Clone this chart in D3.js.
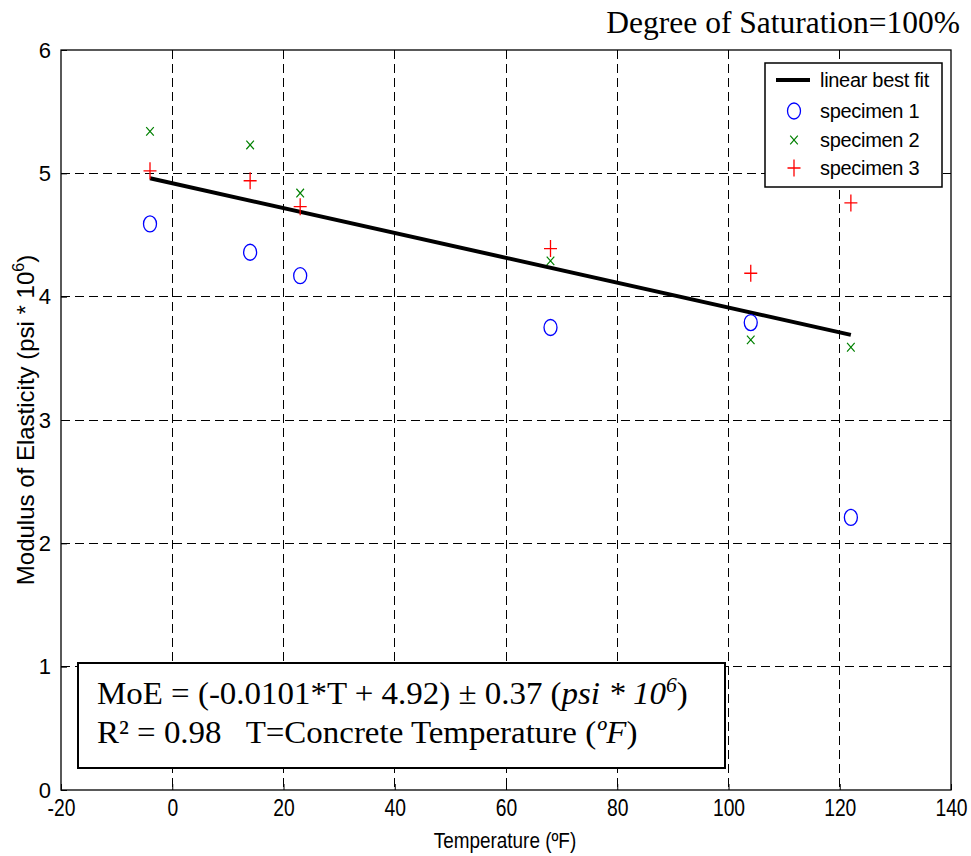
<!DOCTYPE html>
<html>
<head>
<meta charset="utf-8">
<script src="https://cdn.jsdelivr.net/npm/d3@7"></script>
<style>
  html, body { margin: 0; padding: 0; background: #fff; }
  svg { display: block; }
</style>
</head>
<body>
<svg id="chart" width="971" height="856"></svg>
<script>
// ---------------- data ----------------
const temps = [-4, 14, 23, 68, 104, 122];
const specimen1 = [4.59, 4.36, 4.17, 3.75, 3.79, 2.21];
const specimen2 = [5.34, 5.23, 4.84, 4.29, 3.65, 3.59];
const specimen3 = [5.02, 4.94, 4.73, 4.39, 4.19, 4.76];
const fitTemps = [-4, 122];
const fitValues = [4.96, 3.69];
const xTicks = [-20, 0, 20, 40, 60, 80, 100, 120, 140];
const yTicks = [0, 1, 2, 3, 4, 5, 6];
const legendLabels = ["linear best fit", "specimen 1", "specimen 2", "specimen 3"];

// ---------------- layout ----------------
const svg = d3.select("#chart");
const L = 61, R = 951, T = 50, B = 790;
const x = d3.scaleLinear().domain([-20, 140]).range([L, R]);
const y = d3.scaleLinear().domain([0, 6]).range([B, T]);
const sans = "'Liberation Sans', Arial, sans-serif";
const serif = "'Liberation Serif', 'Times New Roman', serif";
const fmt = d => String(d);

// grid
const grid = svg.append("g");
grid.selectAll("line.vx").data(xTicks.filter(d => d > -20 && d < 140)).join("line")
  .attr("x1", d => x(d)).attr("x2", d => x(d)).attr("y1", T).attr("y2", B)
  .attr("stroke", "#000").attr("stroke-width", 1).attr("stroke-dasharray", "9,5")
  .attr("shape-rendering", "crispEdges");
grid.selectAll("line.hy").data(yTicks.filter(d => d > 0 && d < 6)).join("line")
  .attr("x1", L).attr("x2", R).attr("y1", d => y(d)).attr("y2", d => y(d))
  .attr("stroke", "#000").attr("stroke-width", 1).attr("stroke-dasharray", "9,5")
  .attr("shape-rendering", "crispEdges");

// axes
const xAxis = svg.append("g").attr("transform", `translate(0,${B})`)
  .call(d3.axisBottom(x).tickValues(xTicks).tickSizeInner(-6).tickSizeOuter(0).tickPadding(10).tickFormat(fmt));
xAxis.select(".domain").remove();
xAxis.selectAll("text").attr("font-family", sans).attr("font-size", 23).attr("fill", "#000")
  .attr("transform", "scale(0.84,1)");
xAxis.selectAll("line").attr("stroke", "#000");

const yAxis = svg.append("g").attr("transform", `translate(${L},0)`)
  .call(d3.axisLeft(y).tickValues(yTicks).tickSizeInner(-6).tickSizeOuter(0).tickPadding(10).tickFormat(fmt));
yAxis.select(".domain").remove();
yAxis.selectAll("text").attr("font-family", sans).attr("font-size", 22).attr("fill", "#000");
yAxis.selectAll("line").attr("stroke", "#000");

// frame
svg.append("rect").attr("x", L).attr("y", T).attr("width", R - L).attr("height", B - T)
  .attr("fill", "none").attr("stroke", "#000").attr("stroke-width", 1.3);

// best-fit line
const fitData = fitTemps.map((t, i) => [t, fitValues[i]]);
svg.append("path").datum(fitData)
  .attr("d", d3.line().x(d => x(d[0])).y(d => y(d[1])))
  .attr("stroke", "#000").attr("stroke-width", 4).attr("fill", "none");

// markers
function circleMarker(g, cx, cy) {
  g.append("ellipse").attr("cx", cx).attr("cy", cy).attr("rx", 6.5).attr("ry", 8)
    .attr("fill", "none").attr("stroke", "#0000ff").attr("stroke-width", 1.3);
}
function xMarker(g, cx, cy) {
  g.append("path").attr("d", `M${cx-3.8},${cy-4.3}L${cx+3.8},${cy+4.3}M${cx-3.8},${cy+4.3}L${cx+3.8},${cy-4.3}`)
    .attr("stroke", "#008000").attr("stroke-width", 1.2).attr("fill", "none");
}
function plusMarker(g, cx, cy) {
  g.append("path").attr("d", `M${cx-6.5},${cy}L${cx+6.5},${cy}M${cx},${cy-8.5}L${cx},${cy+8.5}`)
    .attr("stroke", "#ff0000").attr("stroke-width", 1.3).attr("fill", "none");
}
const marks = svg.append("g");
temps.forEach((t, i) => {
  circleMarker(marks, x(t), y(specimen1[i]));
  xMarker(marks, x(t), y(specimen2[i]));
  plusMarker(marks, x(t), y(specimen3[i]));
});

// legend
const lg = svg.append("g");
lg.append("rect").attr("x", 765).attr("y", 63).attr("width", 177).attr("height", 124)
  .attr("fill", "#fff").attr("stroke", "#000").attr("stroke-width", 1.5);
const rowY = [80, 111, 140, 168];
lg.append("line").attr("x1", 776).attr("x2", 810).attr("y1", rowY[0]).attr("y2", rowY[0])
  .attr("stroke", "#000").attr("stroke-width", 4);
circleMarker(lg, 794, rowY[1]);
xMarker(lg, 794, rowY[2]);
plusMarker(lg, 794, rowY[3]);
lg.selectAll("text").data(legendLabels).join("text")
  .attr("x", 820).attr("y", (d, i) => rowY[i]).attr("dy", "0.35em")
  .attr("font-family", sans).attr("font-size", 20).attr("fill", "#000")
  .attr("letter-spacing", -0.3)
  .text(d => d);

// equation box
svg.append("rect").attr("x", 78).attr("y", 663).attr("width", 647).attr("height", 105)
  .attr("fill", "#fff").attr("stroke", "#000").attr("stroke-width", 2);
const eqG = svg.append("g").attr("transform", "translate(97,0) scale(1.03,1) translate(-97,0)");
const eq1 = eqG.append("text").attr("x", 97).attr("y", 704)
  .attr("font-family", serif).attr("font-size", 32).attr("fill", "#000");
eq1.append("tspan").text("MoE = (-0.0101*T + 4.92) \u00b1 0.37 (");
eq1.append("tspan").attr("font-style", "italic").text("psi * 10");
eq1.append("tspan").attr("font-style", "italic").attr("font-size", 21).attr("dy", -12).text("6");
eq1.append("tspan").attr("dy", 12).text(")");
const eq2 = eqG.append("text").attr("x", 97).attr("y", 743)
  .attr("font-family", serif).attr("font-size", 32).attr("fill", "#000").attr("xml:space", "preserve");
eq2.append("tspan").text("R\u00b2 = 0.98   T=Concrete Temperature (");
eq2.append("tspan").attr("font-style", "italic").text("\u00baF");
eq2.append("tspan").text(")");

// title
svg.append("text").attr("x", 960).attr("y", 33).attr("text-anchor", "end")
  .attr("font-family", serif).attr("font-size", 31.5).attr("fill", "#000")
  .text("Degree of Saturation=100%");

// axis labels
svg.append("text").attr("x", 505).attr("y", 848).attr("text-anchor", "middle")
  .attr("font-family", sans).attr("font-size", 22).attr("fill", "#000")
  .attr("transform", "translate(505,0) scale(0.86,1) translate(-505,0)")
  .text("Temperature (\u00baF)");

const yl = svg.append("text").attr("transform", "translate(34,420) rotate(-90)")
  .attr("text-anchor", "middle").attr("font-family", sans).attr("font-size", 24).attr("fill", "#000");
yl.append("tspan").text("Modulus of Elasticity (psi * 10");
yl.append("tspan").attr("font-size", 16).attr("dy", -10).text("6");
yl.append("tspan").attr("dy", 10).text(")");
</script>
</body>
</html>
